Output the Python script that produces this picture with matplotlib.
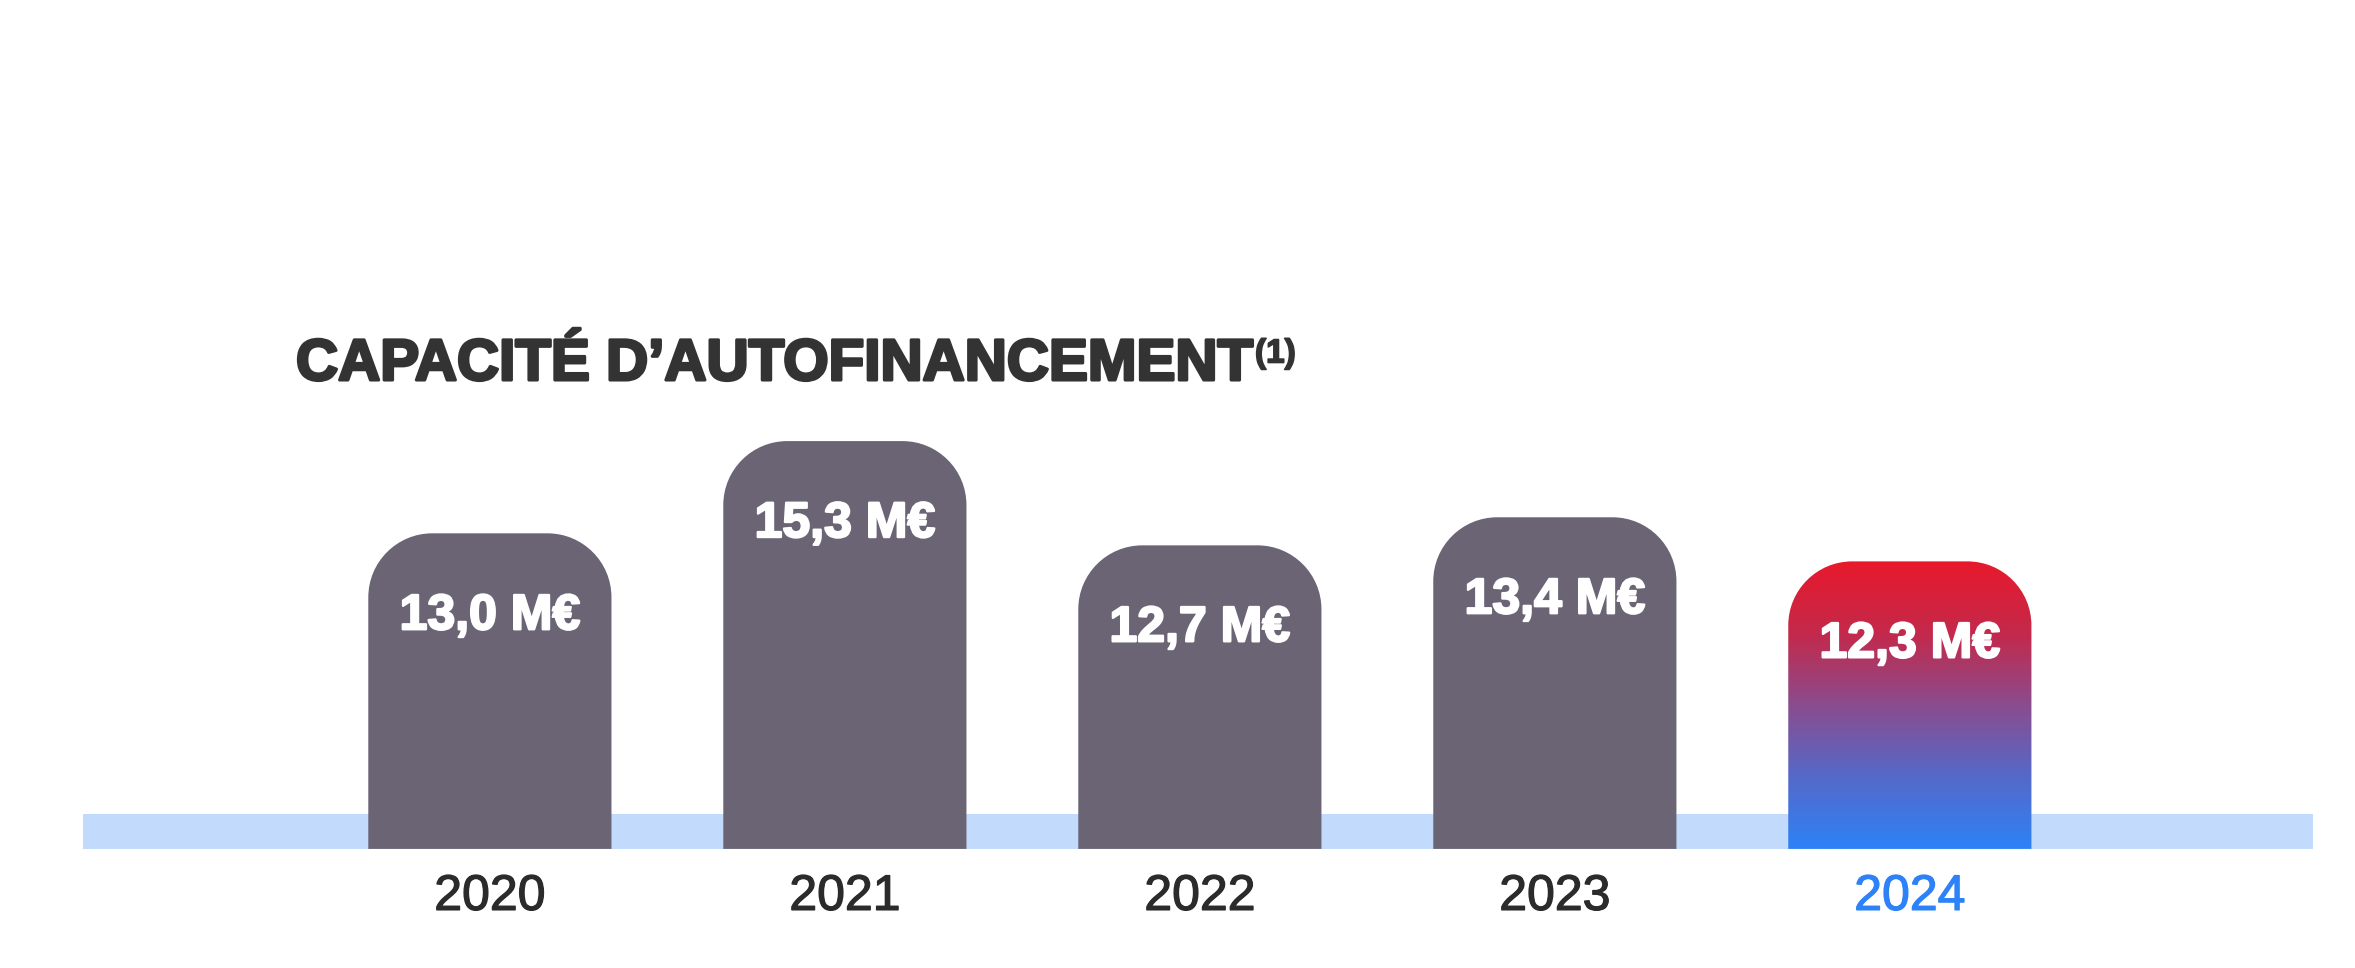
import matplotlib
matplotlib.use('Agg')
import matplotlib.pyplot as plt
import numpy as np
from matplotlib.path import Path
from matplotlib.patches import PathPatch, Rectangle
from matplotlib.colors import LinearSegmentedColormap
import matplotlib.patheffects as pe

years = ['2020', '2021', '2022', '2023', '2024']
values = [13.0, 15.3, 12.7, 13.4, 12.3]
value_labels = ['13,0 M€', '15,3 M€', '12,7 M€', '13,4 M€', '12,3 M€']
title = 'CAPACITÉ D’AUTOFINANCEMENT'
note = '(1)'

W, H = 2355, 968
fig = plt.figure(figsize=(W / 100, H / 100), dpi=100)
ax = fig.add_axes([0, 0, 1, 1])
ax.axis('off')

base = 5.13          # value where the bars start (bottom of the band)
xlo, xhi = -1.380, 5.254
ylo, yhi = 2.16, 26.3
px_x = W / (xhi - xlo)   # pixels per x unit
px_y = H / (yhi - ylo)   # pixels per y unit

bar_w = 0.685
rad = 64  # corner radius in pixels
rx, ry = rad / px_x, rad / px_y

grey = '#6a6474'
dark = '#2b2b2b'
blue = '#2d82f7'
fonts = ['Liberation Sans', 'DejaVu Sans']

# light blue band behind the bars
ax.add_patch(Rectangle((-1.146, base), 6.281, 0.87, facecolor='#c2dafb',
                       edgecolor='none', zorder=1))


def top_rounded(x0, x1, y0, y1):
    k = 0.5523
    verts = [(x0, y0), (x0, y1 - ry),
             (x0, y1 - ry + k * ry), (x0 + rx - k * rx, y1), (x0 + rx, y1),
             (x1 - rx, y1),
             (x1 - rx + k * rx, y1), (x1, y1 - ry + k * ry), (x1, y1 - ry),
             (x1, y0), (x0, y0)]
    codes = [Path.MOVETO, Path.LINETO,
             Path.CURVE4, Path.CURVE4, Path.CURVE4,
             Path.LINETO,
             Path.CURVE4, Path.CURVE4, Path.CURVE4,
             Path.LINETO, Path.CLOSEPOLY]
    return Path(verts, codes)


grad = LinearSegmentedColormap.from_list(
    'cap', ['#2d82f7', '#5569c9', '#8a4c8e', '#c4294b', '#e8192c'])

for i, v in enumerate(values):
    x0, x1 = i - bar_w / 2, i + bar_w / 2
    path = top_rounded(x0, x1, base, v)
    last = (i == len(values) - 1)
    patch = PathPatch(path, facecolor='none' if last else grey,
                      edgecolor='none', zorder=2)
    ax.add_patch(patch)
    if last:
        g = np.linspace(0, 1, 256).reshape(-1, 1)
        im = ax.imshow(g, cmap=grad, origin='lower', aspect='auto',
                       extent=[x0, x1, base, v], zorder=2)
        im.set_clip_path(patch)
    ax.text(i, v - 83 / px_y, value_labels[i], ha='center', va='center',
            color='white', fontsize=36, fontweight='bold', family=fonts,
            zorder=3,
            path_effects=[pe.withStroke(linewidth=1.6, foreground='white')])
    col = blue if last else dark
    ax.text(i, base - 48 / px_y, years[i], ha='center', va='center',
            color=col, fontsize=36, family=fonts, zorder=3,
            path_effects=[pe.withStroke(linewidth=0.9, foreground=col)])

ax.set_xlim(xlo, xhi)
ax.set_ylim(ylo, yhi)

fig.text(296 / W, 1 - 365 / H, title, ha='left', va='center', color='#333333',
         fontsize=42, fontweight='bold', family=fonts,
         path_effects=[pe.withStroke(linewidth=2.2, foreground='#333333')])
fig.text(1255 / W, 1 - 354 / H, note, ha='left', va='center', color='#333333',
         fontsize=24, fontweight='bold', family=fonts,
         path_effects=[pe.withStroke(linewidth=1.2, foreground='#333333')])

fig.savefig('out.png', dpi=100, facecolor='white')
